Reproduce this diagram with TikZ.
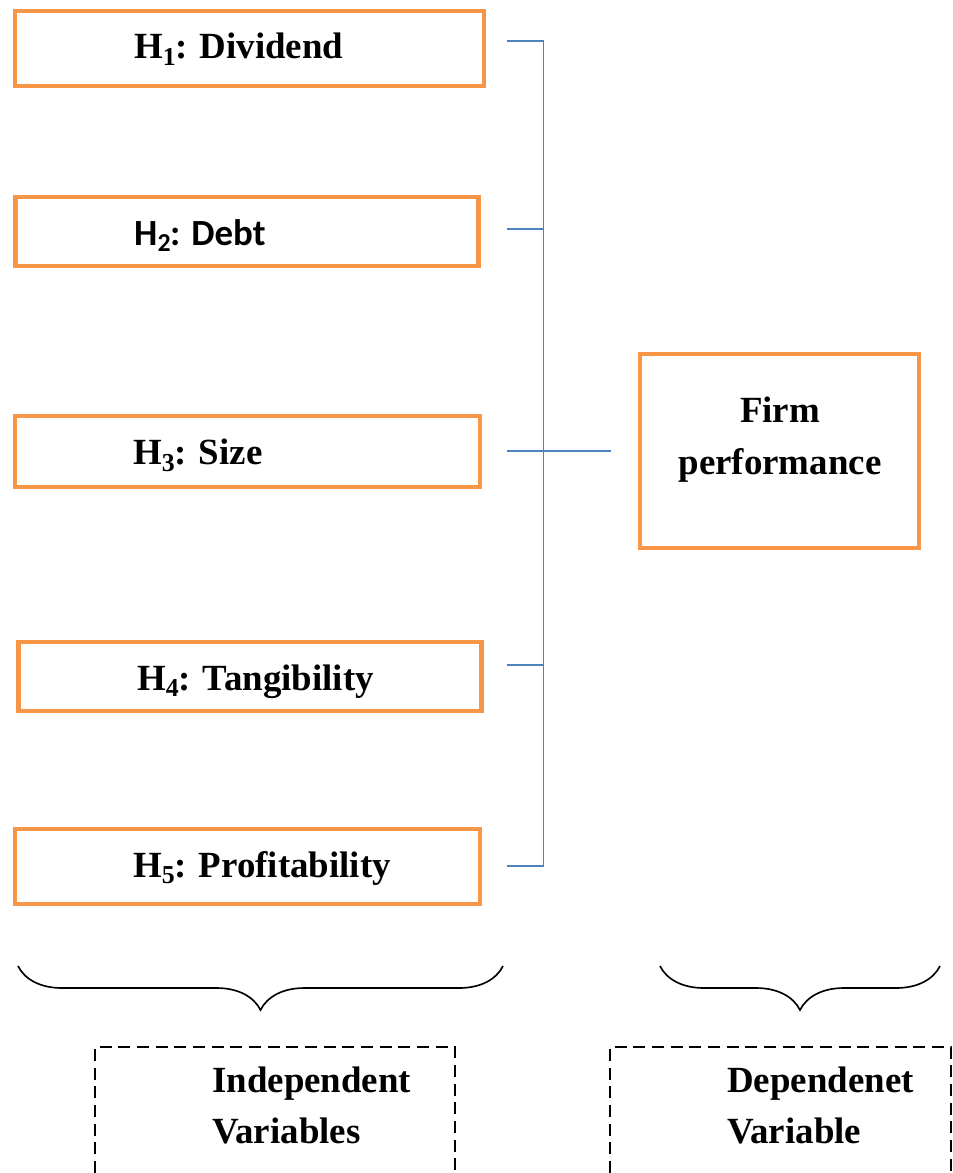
\documentclass[tikz,border=0pt]{standalone}
\usepackage{fontspec}
\setmainfont{Liberation Serif}
\newfontfamily\calibri{Carlito}
\usetikzlibrary{decorations.pathreplacing}

\definecolor{boxorange}{HTML}{F79646}
\definecolor{linkblue}{HTML}{4F81BD}

\tikzset{
    hypbox/.style={draw=boxorange, line width=3.8pt, rectangle, inner sep=0pt},
    lbl/.style={font=\fontsize{31.5}{44}\selectfont\bfseries, inner sep=0pt},
    link/.style={draw=linkblue, line width=1.6pt},
    varbrace/.style={decorate, decoration={brace, mirror, amplitude=1.32cm}, line width=1.4pt},
    varframe/.style={draw, line width=2pt, dash pattern=on 0.36cm off 0.2cm}
}

\begin{document}
\begin{tikzpicture}[x=0.03cm, y=-0.03cm]
    % Page
    \useasboundingbox (0,0) rectangle (953,1173);

    % Hypothesis boxes
    \node[hypbox, minimum width=14.06cm, minimum height=2.24cm] (h1) at (249.5,48.5) {};
    \node[hypbox, minimum width=13.9cm, minimum height=2.06cm] (h2) at (247,231.5) {};
    \node[hypbox, minimum width=13.94cm, minimum height=2.12cm] (h3) at (247.5,451.5) {};
    \node[hypbox, minimum width=13.9cm, minimum height=2.06cm] (h4) at (250,676.5) {};
    \node[hypbox, minimum width=13.94cm, minimum height=2.24cm] (h5) at (247.5,866.5) {};

    % Hypothesis labels
    \node[lbl, anchor=base west] (t1) at (134,58) {H\textsubscript{1}\kern-1pt: Dividend};
    \node[lbl, anchor=base west] (t2) at (134,245) {\calibri H\textsubscript{2}\kern-1pt: Debt};
    \node[lbl, anchor=base west] (t3) at (133,464) {H\textsubscript{3}\kern-1pt: Size};
    \node[lbl, anchor=base west] (t4) at (137,690) {H\textsubscript{4}\kern-1pt: Tangibility};
    \node[lbl, anchor=base west] (t5) at (133,877) {H\textsubscript{5}\kern-1pt: Profitability};

    % Dependent variable
    \node[hypbox, minimum width=8.36cm, minimum height=5.81cm] (firm) at (779.5,451) {};
    \node[lbl, align=center, anchor=base] (ft) at (780,474) {Firm\\performance};

    % Blue links
    \foreach \i/\y in {1/41, 2/229, 3/451, 4/665, 5/866}
        \coordinate (s\i) at (507,\y);
    \coordinate (j1) at (543.5,41);
    \coordinate (j5) at (543.5,866);
    \coordinate (e3) at (611,451);
    \draw[link] (s1) -- (j1) -- (j5) -- (s5);
    \foreach \i in {2,3,4}
        \draw[link] (s\i) -- (s\i -| j1);
    \draw[link] (s3 -| j1) -- (e3);

    % Braces
    \draw[varbrace] (18,966) -- (503,966);
    \draw[varbrace] (660,966) -- (940,966);

    % Variable kinds
    \draw[varframe] (95,1173) -- (95,1047) -- (455,1047) -- (455,1173);
    \draw[varframe] (610,1173) -- (610,1047) -- (951,1047) -- (951,1173);
    \node[lbl, font=\fontsize{31.5}{42.7}\selectfont\bfseries, align=left, anchor=base west] (iv) at (212,1143) {Independent\\Variables};
    \node[lbl, font=\fontsize{31.5}{42.7}\selectfont\bfseries, align=left, anchor=base west] (dv) at (727,1143) {Dependenet\\Variable};
\end{tikzpicture}
\end{document}
